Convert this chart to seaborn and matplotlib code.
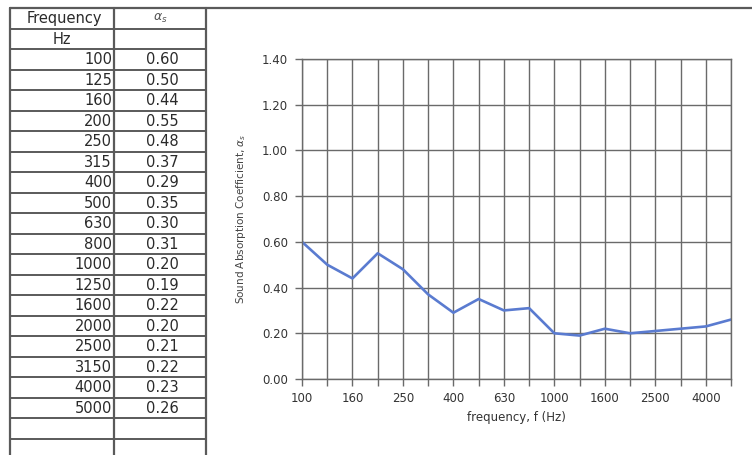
import numpy as np
import pandas as pd
import matplotlib
matplotlib.use("Agg")
import matplotlib.pyplot as plt
import seaborn as sns

# ---- data ----
freq_hz = ["100", "125", "160", "200", "250", "315", "400", "500", "630",
           "800", "1000", "1250", "1600", "2000", "2500", "3150", "4000", "5000"]
alpha_s = [0.60, 0.50, 0.44, 0.55, 0.48, 0.37, 0.29, 0.35, 0.30,
           0.31, 0.20, 0.19, 0.22, 0.20, 0.21, 0.22, 0.23, 0.26]
y_ticks = [0.0, 0.2, 0.4, 0.6, 0.8, 1.0, 1.2, 1.4]

sns.set_theme(style="white")
plt.rcParams['font.family'] = ['DejaVu Sans']
plt.rcParams['mathtext.fontset'] = 'dejavusans'

W, H = 752, 455
fig = plt.figure(figsize=(W / 100, H / 100), dpi=100)
fig.patch.set_facecolor("white")

# ---- table (drawn on a full-figure overlay in pixel coordinates) ----
tab = fig.add_axes([0, 0, 1, 1])
tab.set_xlim(0, W)
tab.set_ylim(H, 0)
tab.axis("off")
line_c = "#5a5a5a"
x_left, x_mid, x_right = 10, 114, 206
row_h = 20.5
y0 = 8
tab.plot([x_left, W], [y0, y0], color=line_c, lw=1.6)
for xv in (x_left, x_mid, x_right):
    tab.plot([xv, xv], [y0, H], color=line_c, lw=1.6)
n_rows = 2 + len(freq_hz) + 2
for i in range(1, n_rows + 1):
    yy = y0 + i * row_h
    if yy < H:
        tab.plot([x_left, x_right], [yy, yy], color=line_c, lw=1.4)

txt_c = "#2a2a2a"
fs_tab = 10.5
tab.text((x_left + x_mid) / 2 + 2, y0 + row_h / 2 + 0.5, "Frequency", ha="center", va="center",
         fontsize=fs_tab, color=txt_c)
tab.text((x_mid + x_right) / 2, y0 + row_h / 2, r"$\alpha_s$", ha="center", va="center",
         fontsize=9, color="#555555")
tab.text((x_left + x_mid) / 2, y0 + 1.5 * row_h + 0.5, "Hz", ha="center", va="center",
         fontsize=fs_tab, color=txt_c)
for i, (f, a) in enumerate(zip(freq_hz, alpha_s)):
    yc = y0 + (i + 2.5) * row_h + 0.5
    tab.text(x_mid - 2, yc, f, ha="right", va="center", fontsize=fs_tab, color=txt_c)
    tab.text((x_mid + x_right) / 2 + 2, yc, f"{a:.2f}", ha="center", va="center",
             fontsize=fs_tab, color=txt_c)

# ---- chart ----
left, right, top, bottom = 302, 731, 59, 379
ax = fig.add_axes([left / W, 1 - bottom / H, (right - left) / W, (bottom - top) / H])
df = pd.DataFrame({"freq": freq_hz, "alpha": alpha_s})
sns.pointplot(data=df, x="freq", y="alpha", order=freq_hz, color="#5a7bd0",
              markers="", linestyles="-", errorbar=None, ax=ax)
for ln in ax.lines:
    ln.set_linewidth(1.9)
ax.set_xlim(0, len(freq_hz) - 1)
ax.set_ylim(0, 1.4)
ax.set_yticks(y_ticks)
ax.set_yticklabels([f"{v:.2f}" for v in y_ticks])
ax.set_xticks(range(len(freq_hz)))
ax.set_xticklabels([f if i % 2 == 0 else "" for i, f in enumerate(freq_hz)])
grid_c = "#6a6a6a"
ax.grid(True, color=grid_c, linewidth=1.0)
ax.set_axisbelow(True)
for s in ax.spines.values():
    s.set_visible(True)
    s.set_color(grid_c)
    s.set_linewidth(1.0)
ax.tick_params(axis="both", which="major", direction="out", length=5, width=1.0,
               color=grid_c, labelsize=8.5, labelcolor="#333333", pad=5,
               bottom=True, left=True)
ax.tick_params(axis="x", pad=4)
ax.set_xlabel("frequency, f (Hz)", fontsize=8.5, color="#333333", labelpad=5)
ax.set_ylabel(r"Sound Absorption Coefficient, $\alpha_s$", fontsize=7.5, color="#444444",
              labelpad=10)
ax.set_facecolor("white")

fig.savefig("out.png", dpi=100, facecolor="white")
